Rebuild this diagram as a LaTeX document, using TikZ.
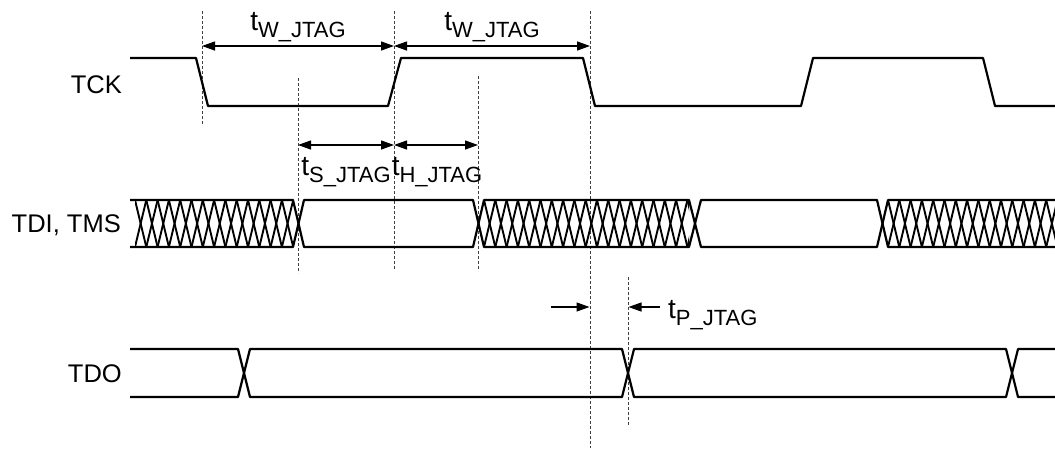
\documentclass[tikz,border=0pt]{standalone}
\usepackage{fontspec}
\setmainfont{Liberation Sans}
\usetikzlibrary{arrows.meta}
\newcommand\tjtag[1]{{\fontsize{28}{32}\selectfont t}\raisebox{-7pt}{\fontsize{22}{24}\selectfont #1\_JTAG}}
\newcommand\hatchzone[2]{%
  \begin{scope}
    \clip (#1,198) rectangle (#2,249);
    \foreach \k in {0,...,20} {
      \pgfmathsetmacro\xa{#1+\k*11.3}
      \draw[hatchline] ({\xa},200) -- ({\xa+11.3},247);
      \draw[hatchline] ({\xa},247) -- ({\xa+11.3},200);
    }
  \end{scope}}
\begin{document}
\begin{tikzpicture}[x=1pt,y=-1pt,
  sig/.style={line width=2.2pt, line join=round},
  hatchline/.style={line width=1.9pt},
  guide/.style={black!75, line width=0.9pt, dash pattern=on 2.5pt off 2.5pt},
  dimboth/.style={line width=1.3pt, {Triangle[length=13pt,width=9pt]}-{Triangle[length=13pt,width=9pt]}},
  dimone/.style={line width=1.3pt, -{Triangle[length=13pt,width=9pt]}},
  siglab/.style={font=\fontsize{25.5}{30}\selectfont, anchor=base east, inner sep=0pt},
  tlab/.style={inner sep=0pt, anchor=base}
]
\useasboundingbox (0,0) rectangle (1055,448);

% signal names
\node[siglab] (tck) at (122,93) {TCK};
\node[siglab] (tdi) at (121,232.5) {TDI, TMS};
\node[siglab] (tdo) at (122,382) {TDO};

% guide coordinates
\coordinate (g1t) at (202,11);  \coordinate (g1b) at (202,125);
\coordinate (g2t) at (394,11);  \coordinate (g2b) at (394,270);
\coordinate (g3t) at (590,11);  \coordinate (g3b) at (590,448);
\coordinate (g4t) at (298,78);  \coordinate (g4b) at (298,273);
\coordinate (g5t) at (478,76);  \coordinate (g5b) at (478,271);
\coordinate (g6t) at (628,277); \coordinate (g6b) at (628,425);

% dotted guide lines
\draw[guide] (g1t) -- (g1b);
\draw[guide] (g2t) -- (g2b);
\draw[guide] (g3t) -- (g3b);
\draw[guide] (g4t) -- (g4b);
\draw[guide] (g5t) -- (g5b);
\draw[guide] (g6t) -- (g6b);

% TCK
\draw[sig] (130,58) -- (196,58) -- (208,106) -- (388,106) -- (401,58) -- (583,58)
  -- (595,106) -- (801,106) -- (813,58) -- (983,58) -- (995,106) -- (1056,106);

% TDI, TMS
\hatchzone{135}{293}
\hatchzone{484}{689}
\hatchzone{888}{1056}
\draw[sig] (130,200) -- (293,200) -- (304,247) -- (473,247) -- (484,200) -- (689,200)
  -- (701,247) -- (877,247) -- (888,200) -- (1056,200);
\draw[sig] (130,247) -- (293,247) -- (304,200) -- (473,200) -- (484,247) -- (689,247)
  -- (701,200) -- (877,200) -- (888,247) -- (1056,247);

% TDO
\draw[sig] (130,349) -- (238,349) -- (250,397) -- (622,397) -- (634,349) -- (1006,349)
  -- (1018,397) -- (1056,397);
\draw[sig] (130,397) -- (238,397) -- (250,349) -- (622,349) -- (634,397) -- (1006,397)
  -- (1018,349) -- (1056,349);

% dimension arrows
\coordinate (w1) at (202,46); \coordinate (w2) at (394,46); \coordinate (w3) at (590,46);
\coordinate (s1) at (298,145); \coordinate (s2) at (394,145); \coordinate (s3) at (478,145);
\coordinate (p1) at (551,307); \coordinate (p2) at (589.5,307);
\coordinate (p3) at (660,307); \coordinate (p4) at (628.5,307);
\draw[dimboth] (w1) -- (w2);
\draw[dimboth] (w2) -- (w3);
\draw[dimboth] (s1) -- (s2);
\draw[dimboth] (s2) -- (s3);
\draw[dimone] (p1) -- (p2);
\draw[dimone] (p3) -- (p4);

% timing labels
\node[tlab] (tw1) at (298,30) {\tjtag{W}};
\node[tlab] (tw2) at (492,30) {\tjtag{W}};
\node[tlab] (ts) at (346,175) {\tjtag{S}};
\node[tlab] (th) at (437,175) {\tjtag{H}};
\node[tlab, anchor=base west] (tp) at (668,318) {\tjtag{P}};
\end{tikzpicture}
\end{document}
